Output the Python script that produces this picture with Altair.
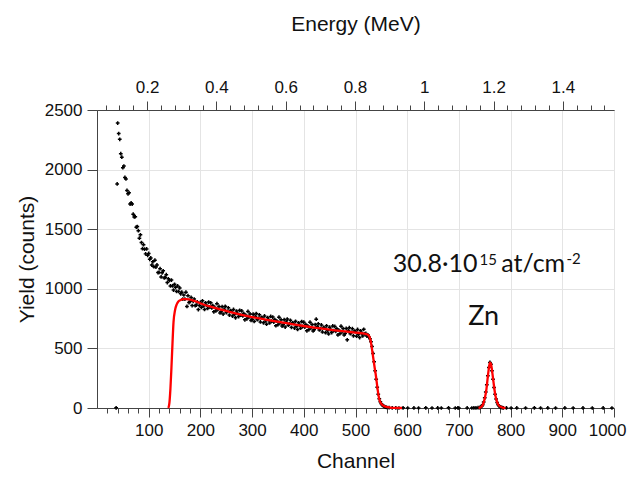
import altair as alt
import pandas as pd

# ---------------- data ----------------
# dense part of the spectrum: channel 40 .. 560, every 2nd channel
dense_start = 40
dense_step = 2
dense_yield = [
    2390, 2302, 2254, 2134, 2104, 2016, 2030, 1934, 1922, 1825,
    1797, 1806, 1711, 1720, 1711, 1626, 1603, 1605, 1517, 1522,
    1488, 1425, 1453, 1388, 1337, 1370, 1332, 1293, 1334, 1281,
    1297, 1247, 1259, 1199, 1226, 1186, 1240, 1182, 1200, 1136,
    1137, 1169, 1100, 1134, 1151, 1091, 1095, 1118, 1052, 1084,
    1070, 1024, 1073, 1024, 989, 1038, 1012, 978, 1024, 978,
    1007, 958, 972, 914, 948, 914, 972, 852, 942, 885,
    894, 928, 859, 895, 914, 858, 864, 890, 826, 860,
    886, 845, 899, 856, 827, 882, 862, 835, 889, 848,
    882, 839, 859, 807, 844, 814, 875, 827, 852, 798,
    808, 850, 788, 829, 853, 801, 810, 840, 780, 817,
    811, 771, 827, 785, 757, 813, 793, 767, 820, 780,
    814, 772, 792, 740, 778, 748, 810, 762, 789, 735,
    745, 787, 726, 768, 792, 741, 751, 782, 722, 761,
    755, 715, 772, 730, 703, 759, 739, 714, 768, 729,
    763, 721, 742, 690, 729, 699, 762, 714, 741, 687,
    698, 741, 679, 722, 746, 695, 706, 736, 677, 715,
    710, 671, 727, 686, 659, 715, 696, 670, 725, 685,
    720, 679, 700, 648, 687, 658, 720, 673, 700, 646,
    657, 700, 745, 681, 706, 655, 666, 697, 638, 676,
    671, 632, 689, 648, 621, 678, 658, 633, 688, 649,
    684, 643, 664, 613, 652, 623, 686, 639, 666, 613,
    624, 667, 572, 649, 674, 623, 634, 665, 606, 646,
    641, 602, 659, 618, 591, 648, 629, 605, 660, 621,
    626, 603, 614, 596, 580, 556, 516, 458, 388, 312,
    242, 174, 116, 78, 52, 36, 25, 17, 12, 8,
    5,
]

# scattered points (background level + one outlier)
sparse_channel = [37, 39, 565, 571, 578, 584, 592, 601, 613, 622, 636, 648, 659, 666,
                  680, 693, 698, 700, 716, 725, 729, 733, 737, 792, 801, 812, 829,
                  846, 858, 872, 887, 905, 921, 940, 958, 979, 996]
sparse_yield = [2, 1880, 3, 2, 1, 0, 2, 0, 1, 0, 2, 0, 1, 0,
                2, 0, 1, 0, 1, 0, 2, 1, 3, 1, 0, 1, 0,
                2, 0, 1, 0, 1, 0, 1, 0, 1, 0]

# Zn peak points: channel 740 .. 786, every 2nd channel
zn_start = 740
zn_step = 2
zn_yield = [4, 8, 15, 28, 50, 85, 135, 195, 270, 340, 382, 368,
            312, 242, 172, 116, 76, 46, 28, 16, 9, 5, 3, 1]

# simulated (fit) spectrum, red
fit_main_channel = [138, 140, 142, 144, 146, 148, 151, 154, 157, 162,
                    167, 172, 178, 185, 192, 200, 210, 220, 240, 260,
                    280, 300, 320, 340, 360, 380, 400, 420, 440, 460,
                    480, 500, 512, 520, 524, 527, 529, 531, 533, 535,
                    537, 539, 541, 543, 545, 547, 550, 555, 560, 567,
                    578, 590]
fit_main_yield = [0, 40, 160, 340, 540, 720, 822, 868, 892, 906,
                  913, 914, 911, 903, 892, 878, 862, 850, 826, 803,
                  782, 763, 747, 731, 716, 702, 688, 675, 663, 652,
                  642, 633, 627, 621, 614, 598, 570, 520, 460, 400,
                  340, 285, 220, 150, 95, 60, 35, 17, 9, 4,
                  1, 0]
fit_zn_channel = [738, 742, 746, 750, 753, 756, 758, 760, 762, 764, 767, 770, 773, 776, 780, 785, 790]
fit_zn_yield = [0, 6, 25, 80, 150, 265, 335, 380, 370, 318, 215, 120, 62, 30, 11, 3, 0]

# axes
channel_domain = [0, 1000]
channel_ticks = [100, 200, 300, 400, 500, 600, 700, 800, 900, 1000]
channel_minor = [c for c in range(20, 1000, 20) if c % 100 != 0]
yield_domain = [0, 2500]
yield_ticks = [0, 500, 1000, 1500, 2000, 2500]
energy_domain = [0.0552, 1.5478]
energy_ticks = [0.2, 0.4, 0.6, 0.8, 1.0, 1.2, 1.4]
energy_minor = [0.08, 0.12, 0.16, 0.24, 0.28, 0.32, 0.36, 0.44, 0.48, 0.52, 0.56,
                0.64, 0.68, 0.72, 0.76, 0.84, 0.88, 0.92, 0.96, 1.04, 1.08, 1.12,
                1.16, 1.24, 1.28, 1.32, 1.36, 1.44, 1.48, 1.52]

# annotation
ann_main_text = ["30.8·10", "at/cm"]
ann_main_channel = [572, 782]
ann_main_yield = [1141, 1141]
ann_sup_text = ["15", "-2"]
ann_sup_channel = [740, 908]
ann_sup_yield = [1203, 1208]
ann_zn_text = ["Zn"]
ann_zn_channel = [718]
ann_zn_yield = [696]

# ---------------- tables ----------------
dense_channel = [dense_start + dense_step * i for i in range(len(dense_yield))]
zn_channel = [zn_start + zn_step * i for i in range(len(zn_yield))]
points = pd.DataFrame({
    "channel": dense_channel + sparse_channel + zn_channel,
    "counts": dense_yield + sparse_yield + zn_yield,
})
fit = pd.DataFrame({
    "channel": fit_main_channel + fit_zn_channel,
    "counts": fit_main_yield + fit_zn_yield,
    "seg": ["main"] * len(fit_main_channel) + ["zn"] * len(fit_zn_channel),
})
minor_df = pd.DataFrame({"channel": channel_minor})
energy_df = pd.DataFrame({"energy": energy_ticks})
energy_minor_df = pd.DataFrame({"energy": energy_minor})
ann_main = pd.DataFrame({"channel": ann_main_channel, "counts": ann_main_yield, "t": ann_main_text})
ann_sup = pd.DataFrame({"channel": ann_sup_channel, "counts": ann_sup_yield, "t": ann_sup_text})
ann_zn = pd.DataFrame({"channel": ann_zn_channel, "counts": ann_zn_yield, "t": ann_zn_text})

FONT = "Liberation Sans"
AXC = "#444444"


def xs():
    return alt.Scale(domain=channel_domain, nice=False, zero=False)


def ys():
    return alt.Scale(domain=yield_domain, nice=False, zero=False)


def es():
    return alt.Scale(domain=energy_domain, nice=False, zero=False)


bottom_axis = alt.Axis(
    orient="bottom", values=channel_ticks, format="d", grid=True, gridColor="#e4e4e4",
    tickSize=9, tickColor=AXC, domainColor=AXC, labelFontSize=17, labelPadding=5,
    labelColor="#111111", labelFlush=1, labelFlushOffset=12, title="Channel",
    titleFontSize=21, titleFontWeight="normal", titleColor="#111111", titleY=59,
    titleBaseline="alphabetic",
)
left_axis = alt.Axis(
    values=yield_ticks, format="d", grid=True, gridColor="#e4e4e4", tickSize=10,
    tickColor=AXC, domainColor=AXC, labelFontSize=17, labelPadding=5, labelColor="#111111",
    title="Yield (counts)", titleFontSize=21, titleFontWeight="normal",
    titleColor="#111111", titleX=-60, titleY=149,
)


def yenc():
    return alt.Y("counts:Q", scale=ys(), axis=left_axis)


pts = alt.Chart(points).mark_point(
    shape="cross", filled=True, size=14, color="black", opacity=1
).encode(
    x=alt.X("channel:Q", scale=xs(), axis=bottom_axis),
    y=yenc(),
)

minor_bottom = alt.Chart(minor_df).mark_point(opacity=0).encode(
    x=alt.X("channel:Q", scale=xs(), axis=alt.Axis(
        orient="bottom", values=channel_minor, grid=False, labels=False, domain=False,
        tickSize=5, tickColor=AXC, title="")),
)

top_major = alt.Chart(energy_df).mark_point(opacity=0).encode(
    x=alt.X("energy:Q", scale=es(), axis=alt.Axis(
        orient="top", values=energy_ticks, format="~g", grid=False, domainColor=AXC,
        tickSize=9, tickColor=AXC, labelFontSize=17, labelPadding=5, labelColor="#111111",
        labelFlush=False, title="Energy (MeV)", titleFontSize=21, titleFontWeight="normal",
        titleColor="#111111", titleY=-80, titleBaseline="alphabetic")),
)

top_minor = alt.Chart(energy_minor_df).mark_point(opacity=0).encode(
    x=alt.X("energy:Q", scale=es(), axis=alt.Axis(
        orient="top", values=energy_minor, grid=False, labels=False, domain=False,
        tickSize=5, tickColor=AXC, title="")),
)

fit_line = alt.Chart(fit).mark_line(
    color="#ff0000", strokeWidth=2.3, interpolate="monotone"
).encode(
    x=alt.X("channel:Q", scale=xs(), axis=None),
    y=yenc(),
    detail="seg:N",
)


def text_layer(df, size):
    return alt.Chart(df).mark_text(
        align="left", baseline="alphabetic", font="Lato", fontSize=size, color="#111111"
    ).encode(
        x=alt.X("channel:Q", scale=xs(), axis=None),
        y=yenc(),
        text="t:N",
    )


chart = alt.layer(
    pts, minor_bottom, top_major, top_minor, fit_line,
    text_layer(ann_main, 25), text_layer(ann_sup, 15), text_layer(ann_zn, 27),
).resolve_scale(x="independent").properties(
    width=517, height=298,
    autosize=alt.AutoSizeParams(type="none"),
    padding={"left": 89, "top": 102, "right": 14, "bottom": 63},
).configure_axis(
    labelFont=FONT, titleFont=FONT,
).configure_view(
    stroke=AXC, strokeWidth=1,
)

chart.save("out.html", embed_options={"renderer": "svg", "actions": False})
